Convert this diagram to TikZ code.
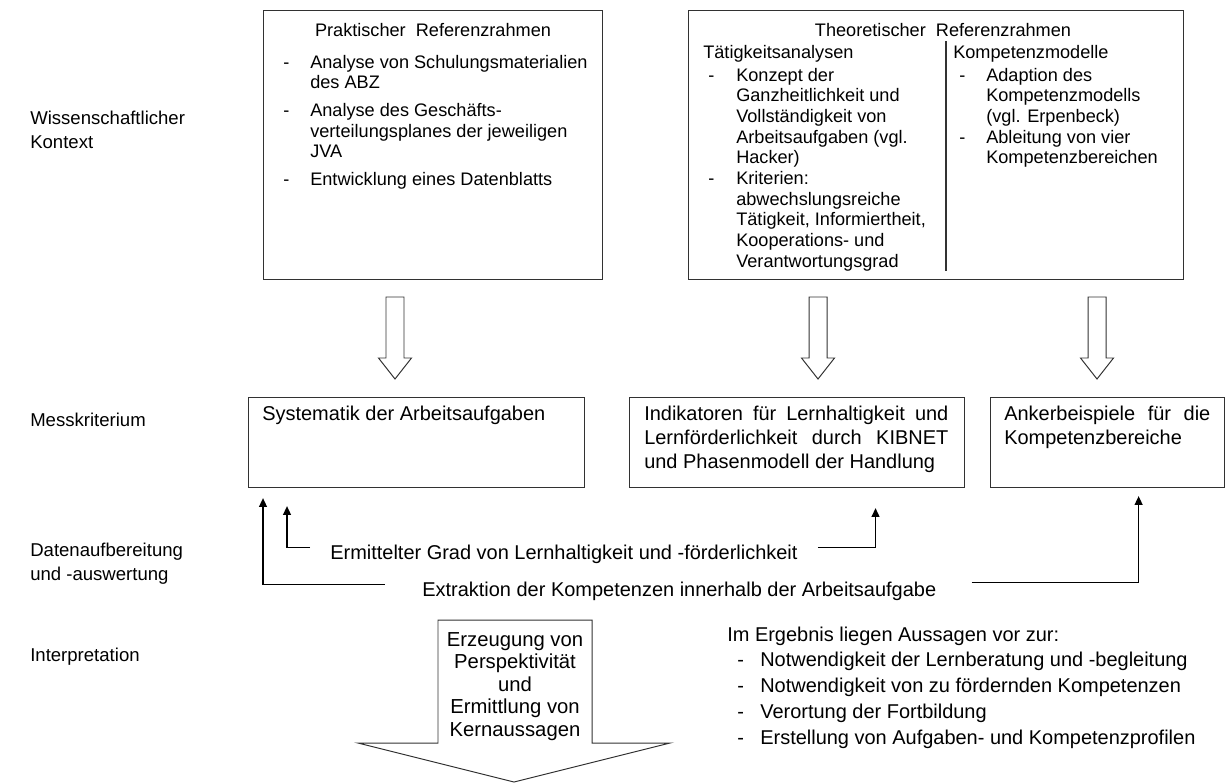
\documentclass[tikz,border=0pt]{standalone}
\usepackage{fontspec}
\setmainfont{Liberation Sans}
\usetikzlibrary{arrows.meta}
\definecolor{linegray}{RGB}{50, 50, 50}

\tikzset{
    frame/.style = {
        draw=linegray,
        line width=0.8pt,
        inner sep=0pt,
        anchor=north west,
        },
    txt/.style = {
        anchor=base west,
        inner sep=0pt,
        font=\fontsize{12.9}{14.7}\selectfont,
        },
    bigtxt/.style = {
        anchor=base west,
        inner sep=0pt,
        font=\fontsize{14.2}{17.4}\selectfont,
        },
    conn/.style = {
        draw=black,
        line width=0.8pt,
        -{Triangle[length=0.22cm,width=0.2cm]},
        },
    hollow/.style = {
        draw=linegray,
        line width=0.7pt,
        fill=white,
        },
    pics/dnarrow/.style = {code={
        \draw[hollow] (-9,0) -- (9,0) -- (9,61) -- (16.5,61) -- (0,82)
            -- (-16.5,61) -- (-9,61) -- cycle;
        }},
}

\begin{document}
\begin{tikzpicture}[x=0.025cm, y=-0.025cm]
    \useasboundingbox (0,0) rectangle (1227,783);

    % Zeilenbeschriftungen links
    \node[txt, font=\fontsize{13.2}{17.7}\selectfont] (kontext) at (30,124)
        {\begin{tabular}[t]{@{}l@{}}Wissenschaftlicher\\Kontext\end{tabular}};
    \node[txt, font=\fontsize{13.2}{17.7}\selectfont] (mess) at (30,426) {Messkriterium};
    \node[txt, font=\fontsize{13.2}{17.7}\selectfont] (daten) at (30,556)
        {\begin{tabular}[t]{@{}l@{}}Datenaufbereitung\\und -auswertung\end{tabular}};
    \node[txt, font=\fontsize{13.2}{17.7}\selectfont] (interp) at (30,661) {Interpretation};

    % Referenzrahmen oben
    \node[frame, minimum width=8.475cm, minimum height=6.725cm] (prak) at (263,10) {};
    \node[txt, anchor=base] (praktitel) at (433,36) {Praktischer~~Referenzrahmen};
    \node[txt] (prakliste) at (283,68) {\begin{tabular}[t]{@{}p{0.675cm}@{}l@{}}
        - & Analyse von Schulungsmaterialien\\
          & des ABZ\\[5pt]
        - & Analyse des Geschäfts-\\
          & verteilungsplanes der jeweiligen\\
          & JVA\\[5pt]
        - & Entwicklung eines Datenblatts
        \end{tabular}};

    \node[frame, minimum width=12.375cm, minimum height=6.725cm] (theo) at (688,10) {};
    \node[txt, anchor=base] (theotitel) at (943,36) {Theoretischer~~Referenzrahmen};
    \draw[draw=linegray, line width=0.8pt] (946,41) -- (946,271);
    \node[txt] (taetig) at (703,58) {Tätigkeitsanalysen};
    \node[txt] (taetigliste) at (708,81) {\begin{tabular}[t]{@{}p{0.7cm}@{}l@{}}
        - & Konzept der\\
          & Ganzheitlichkeit und\\
          & Vollständigkeit von\\
          & Arbeitsaufgaben (vgl.\\
          & Hacker)\\
        - & Kriterien:\\
          & abwechslungsreiche\\
          & Tätigkeit, Informiertheit,\\
          & Kooperations- und\\
          & Verantwortungsgrad
        \end{tabular}};
    \node[txt] (kompmod) at (953,58) {Kompetenzmodelle};
    \node[txt] (kompliste) at (959,81) {\begin{tabular}[t]{@{}p{0.675cm}@{}l@{}}
        - & Adaption des\\
          & Kompetenzmodells\\
          & (vgl. Erpenbeck)\\
        - & Ableitung von vier\\
          & Kompetenzbereichen
        \end{tabular}};

    % Pfeile nach unten
    \pic (pfeilA) at (395,297) {dnarrow};
    \pic (pfeilB) at (818,297) {dnarrow};
    \pic (pfeilC) at (1097,297) {dnarrow};

    % Messkriterien
    \node[frame, minimum width=8.4cm, minimum height=2.25cm] (syst) at (248,397) {};
    \node[bigtxt] (systtext) at (262,420) {Systematik der Arbeitsaufgaben};
    \node[frame, minimum width=8.375cm, minimum height=2.25cm] (indi) at (629,397) {};
    \node[bigtxt] (inditext) at (644,420)
        {\begin{tabular}[t]{@{}l@{}}
        \makebox[7.6cm][s]{Indikatoren für Lernhaltigkeit und}\\
        \makebox[7.6cm][s]{Lernförderlichkeit durch KIBNET}\\
        und Phasenmodell der Handlung
        \end{tabular}};
    \node[frame, minimum width=5.85cm, minimum height=2.25cm] (anker) at (990,397) {};
    \node[bigtxt] (ankertext) at (1004,420)
        {\begin{tabular}[t]{@{}l@{}}
        \makebox[5.15cm][s]{Ankerbeispiele für die}\\
        Kompetenzbereiche
        \end{tabular}};

    % Auswertung
    \node[bigtxt] (ermi) at (330,559) {Ermittelter Grad von Lernhaltigkeit und -förderlichkeit};
    \node[bigtxt] (extr) at (422,596) {Extraktion der Kompetenzen innerhalb der Arbeitsaufgabe};
    \draw[conn] ([xshift=-0.5cm,yshift=0.15cm]ermi.west) -| ([xshift=0.975cm,yshift=-0.45cm]syst.south west);
    \draw[conn] ([xshift=0.5cm,yshift=0.15cm]ermi.east) -| ([xshift=1.96cm,yshift=-0.5cm]indi.south);
    \draw[conn] ([xshift=-0.925cm,yshift=0.15cm]extr.west) -| ([xshift=0.375cm,yshift=-0.25cm]syst.south west);
    \draw[conn] ([xshift=0.875cm,yshift=0.2cm]extr.east) -| ([xshift=0.775cm,yshift=-0.2cm]anker.south);

    % Interpretation
    \draw[hollow] (438,620) -- (592,620) -- (592,743) -- (670,743) -- (514,782)
        -- (358,743) -- (438,743) -- cycle;
    \node[txt, anchor=base, font=\fontsize{14.4}{16}\selectfont] (kern) at (515,646)
        {\begin{tabular}[t]{@{}c@{}}Erzeugung von\\Perspektivität\\und\\Ermittlung von\\Kernaussagen\end{tabular}};
    \node[txt, font=\fontsize{14.2}{18.4}\selectfont] (ergebnis) at (727,641)
        {\begin{tabular}[t]{@{}p{0.825cm}@{}l@{}}
        \multicolumn{2}{@{}l@{}}{Im Ergebnis liegen Aussagen vor zur:}\\
        \hspace{0.25cm}- & Notwendigkeit der Lernberatung und -begleitung\\
        \hspace{0.25cm}- & Notwendigkeit von zu fördernden Kompetenzen\\
        \hspace{0.25cm}- & Verortung der Fortbildung\\
        \hspace{0.25cm}- & Erstellung von Aufgaben- und Kompetenzprofilen
        \end{tabular}};
\end{tikzpicture}
\end{document}
